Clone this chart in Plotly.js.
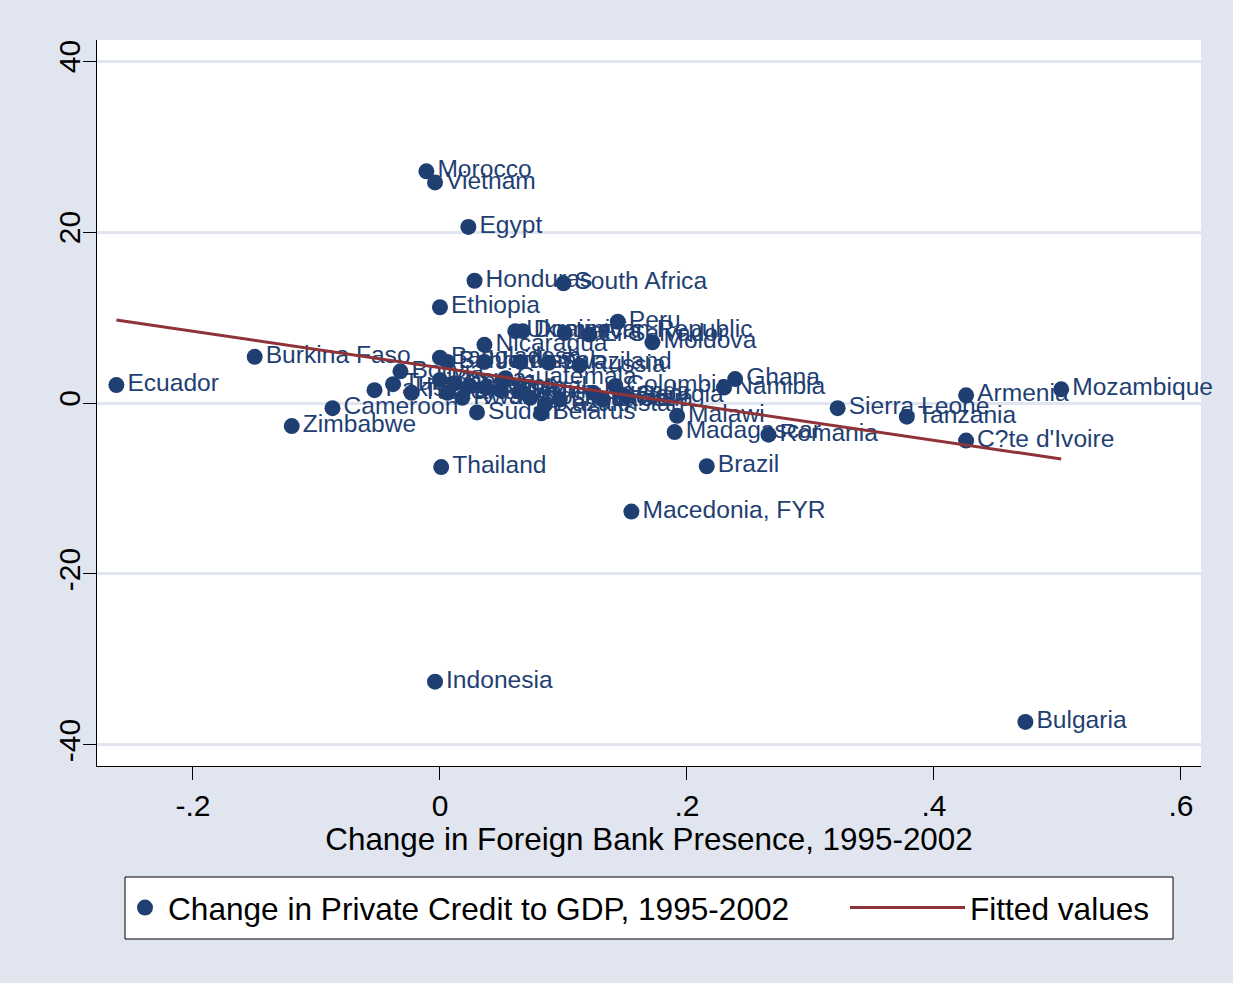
<!DOCTYPE html>
<html>
<head>
<meta charset="utf-8">
<script src="https://cdn.plot.ly/plotly-3.0.1.min.js"></script>
<style>html,body{margin:0;padding:0;background:#fff;}#chart{width:1233px;height:983px;}</style>
</head>
<body>
<div id="chart"></div>
<script>
// ---- Data ----
var countries = [
  "Ecuador","Burkina Faso","Zimbabwe","Cameroon","Morocco","Vietnam","Egypt","Honduras",
  "South Africa","Ethiopia","Peru","Nicaragua","Moldova","Russia","Ghana","Namibia",
  "Colombia","Armenia","Mozambique","Sierra Leone","Tanzania","C?te d'Ivoire","Malawi",
  "Madagascar","Romania","Brazil","Macedonia, FYR","Thailand","Indonesia","Bulgaria",
  "Sudan","Belarus","Kazakhstan","Dominican Republic","Ukraine","Latvia","El Salvador",
  "Bangladesh","Bahrain","Jordan","Nepal","Swaziland","Bolivia","Guatemala","Bosnia",
  "Kenya","Mexico","Senegal","Mali","Benin","Uganda","Croatia","Tunisia","Pakistan",
  "Turkey","Costa Rica","Lithuania","Georgia","Paraguay","Rwanda"
];
var foreignBankChange = [
  -0.262,-0.150,-0.120,-0.087,-0.011,-0.004,0.023,0.028,
  0.100,0.000,0.144,0.036,0.172,0.113,0.239,0.230,
  0.142,0.426,0.503,0.322,0.378,0.426,0.192,
  0.190,0.266,0.216,0.155,0.001,-0.004,0.474,
  0.030,0.082,0.085,0.067,0.061,0.101,0.121,
  0.000,0.006,0.036,0.065,0.088,-0.032,0.053,0.000,
  0.012,0.024,0.037,0.049,0.065,0.124,0.132,-0.038,-0.053,
  -0.023,0.073,0.097,0.150,0.006,0.018
];
var privateCreditChange = [
  2.1,5.4,-2.7,-0.6,27.1,25.8,20.6,14.3,
  14.0,11.2,9.5,6.8,7.1,4.4,2.8,1.8,
  2.0,0.9,1.6,-0.6,-1.6,-4.4,-1.5,
  -3.4,-3.7,-7.4,-12.7,-7.5,-32.6,-37.3,
  -1.1,-1.2,-0.2,8.4,8.4,8.2,8.0,
  5.3,4.8,4.8,4.8,4.7,3.7,2.9,2.7,
  2.3,2.0,1.8,1.5,1.3,1.2,0.4,2.2,1.5,
  1.2,0.6,0.4,0.8,1.2,0.6
];
// Fitted values line (end points)
var fittedX = [-0.262, 0.503];
var fittedY = [9.7, -6.55];

var xTickVals = [-0.2, 0, 0.2, 0.4, 0.6];
var xTickText = ["-.2", "0", ".2", ".4", ".6"];
var yTickVals = [-40, -20, 0, 20, 40];
var yTickText = ["-40", "-20", "0", "20", "40"];

var xTitle = "Change in Foreign Bank Presence, 1995-2002";
var scatterName = "Change in Private Credit to GDP, 1995-2002";
var lineName = "Fitted values";

// ---- Styling ----
var NAVY = "#1f3f73";
var MAROON = "#8f3339";
var BG = "#e0e5ef";
var FONT = "Liberation Sans, Arial, sans-serif";

var traces = [
  {
    type: "scatter",
    mode: "markers+text",
    x: foreignBankChange,
    y: privateCreditChange,
    text: countries,
    textposition: "middle right",
    textfont: {family: FONT, size: 24.6, color: NAVY},
    marker: {size: 16, color: NAVY},
    name: scatterName,
    cliponaxis: false,
    legend: "legend"
  },
  {
    type: "scatter",
    mode: "lines",
    x: fittedX,
    y: fittedY,
    line: {color: MAROON, width: 3},
    name: lineName,
    legend: "legend2"
  }
];

var layout = {
  width: 1233,
  height: 983,
  margin: {l: 97, r: 32, t: 40, b: 217},
  paper_bgcolor: BG,
  plot_bgcolor: "#ffffff",
  font: {family: FONT, color: "#000000"},
  showlegend: true,
  xaxis: {
    range: [-0.2777, 0.6162],
    tickvals: xTickVals,
    ticktext: xTickText,
    ticks: "outside",
    ticklen: 13,
    tickwidth: 1,
    tickcolor: "#000",
    tickfont: {family: FONT, size: 30, color: "#000"},
    showline: true,
    linecolor: "#000",
    linewidth: 1,
    showgrid: false,
    zeroline: false,
    title: {text: xTitle, font: {family: FONT, size: 31.4, color: "#000"}, standoff: 4}
  },
  yaxis: {
    range: [-42.46, 42.46],
    tickvals: yTickVals,
    ticktext: yTickText,
    tickangle: -90,
    ticks: "outside",
    ticklen: 13,
    tickwidth: 1,
    tickcolor: "#000",
    ticklabelstandoff: -9,
    tickfont: {family: FONT, size: 30, color: "#000"},
    showline: true,
    linecolor: "#000",
    linewidth: 1,
    showgrid: true,
    gridcolor: "#e0e5ef",
    gridwidth: 3,
    zeroline: false
  },
  legend: {
    orientation: "h",
    x: (122 - 97) / 1104, xanchor: "left",
    y: -0.1956, yanchor: "middle",
    bgcolor: "rgba(0,0,0,0)",
    borderwidth: 0,
    itemwidth: 36,
    font: {family: FONT, size: 31.6, color: "#000"}
  },
  legend2: {
    orientation: "h",
    x: (845 - 97) / 1104, xanchor: "left",
    y: -0.1956, yanchor: "middle",
    bgcolor: "rgba(0,0,0,0)",
    borderwidth: 0,
    itemwidth: 115,
    font: {family: FONT, size: 31.6, color: "#000"}
  },
  shapes: [
    {
      type: "rect", xref: "paper", yref: "paper", layer: "below",
      x0: (125 - 97) / 1104, x1: (1173 - 97) / 1104,
      y0: (766 - 939) / 726, y1: (766 - 877) / 726,
      fillcolor: "#ffffff", line: {color: "#000", width: 1}
    }
  ]
};

Plotly.newPlot("chart", traces, layout, {displayModeBar: false, staticPlot: true});
</script>
</body>
</html>
